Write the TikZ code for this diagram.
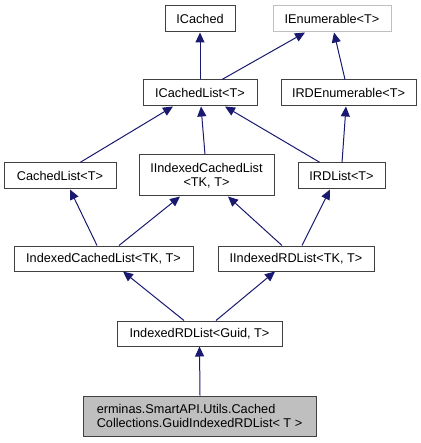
\documentclass[tikz,border=0pt]{standalone}
\usepackage{fontspec}
\setmainfont{Liberation Sans}
\usetikzlibrary{arrows.meta}
\definecolor{edgeblue}{HTML}{191970}
\definecolor{boxgray}{HTML}{BFBFBF}
\definecolor{lightborder}{HTML}{BFBFBF}
\tikzset{
  cls/.style={draw=black!75, line width=1pt, fill=white, inner sep=0pt, font=\fontsize{12.7}{14.5}\selectfont, align=center},
  inh/.style={draw=edgeblue, line width=1pt, -{Triangle[length=10pt,width=9pt,fill=edgeblue]}},
}
\begin{document}
\begin{tikzpicture}[x=1pt,y=-1pt]
\useasboundingbox (0,0) rectangle (420,443);
\node[cls, minimum width=70pt, minimum height=26pt] (icached) at (200,19) {ICached};
\node[cls, draw=lightborder, minimum width=118pt, minimum height=26pt] (ienum) at (332,19) {IEnumerable<T>};
\node[cls, minimum width=114pt, minimum height=26pt] (icl) at (200,93) {ICachedList<T>};
\node[cls, minimum width=135pt, minimum height=26pt] (irde) at (348.5,93) {IRDEnumerable<T>};
\node[cls, minimum width=112pt, minimum height=26pt] (cl) at (60,176) {CachedList<T>};
\node[cls, minimum width=135pt, minimum height=41pt] (iicl) at (206.5,175.5) {IIndexedCachedList\\<TK, T>};
\node[cls, minimum width=87pt, minimum height=26pt] (irdl) at (341.5,176) {IRDList<T>};
\node[cls, minimum width=179pt, minimum height=25pt] (icl2) at (103.5,258.5) {IndexedCachedList<TK, T>};
\node[cls, minimum width=156pt, minimum height=25pt] (iird) at (296,258.5) {IIndexedRDList<TK, T>};
\node[cls, minimum width=165pt, minimum height=25pt] (ird) at (199.5,333.5) {IndexedRDList<Guid, T>};
\node[cls, fill=boxgray, align=left, minimum width=233pt, minimum height=40pt] (gird) at (199.5,416) {erminas.SmartAPI.Utils.Cached\\Collections.GuidIndexedRDList< T >};

\draw[inh] (icl.north) -- (icached.south);
\draw[inh] ([xshift=22pt]icl.north) -- ([xshift=-27pt]ienum.south);
\draw[inh] ([xshift=-3.5pt]irde.north) -- ([xshift=2pt]ienum.south);
\draw[inh] ([xshift=20pt]cl.north) -- ([xshift=-27pt]icl.south);
\draw[inh] ([xshift=-1.5pt]iicl.north) -- ([xshift=1pt]icl.south);
\draw[inh] ([xshift=-21.5pt]irdl.north) -- ([xshift=25pt]icl.south);
\draw[inh] ([xshift=0.5pt]irdl.north) -- ([xshift=-2.5pt]irde.south);
\draw[inh] ([xshift=-6.5pt]icl2.north) -- ([xshift=10pt]cl.south);
\draw[inh] ([xshift=15.5pt]icl2.north) -- ([xshift=-26.5pt]iicl.south);
\draw[inh] ([xshift=-14pt]iird.north) -- ([xshift=21.5pt]iicl.south);
\draw[inh] ([xshift=6pt]iird.north) -- ([xshift=-11.5pt]irdl.south);
\draw[inh] ([xshift=-15.5pt]ird.north) -- ([xshift=19.5pt]icl2.south);
\draw[inh] ([xshift=16.5pt]ird.north) -- ([xshift=-21pt]iird.south);
\draw[inh] ([xshift=0.5pt]gird.north) -- (ird.south);
\end{tikzpicture}
\end{document}
